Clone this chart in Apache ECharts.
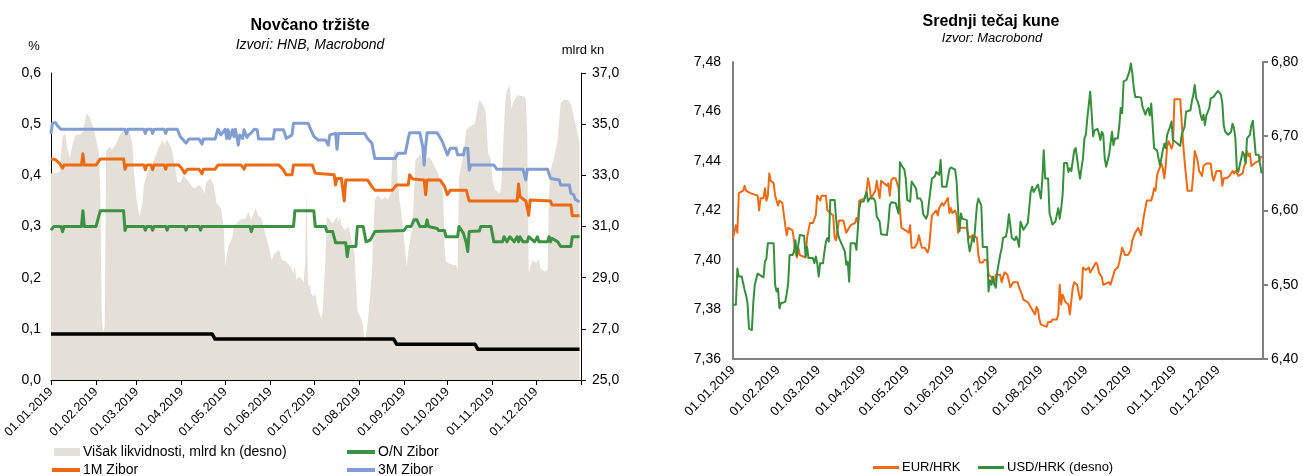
<!DOCTYPE html>
<html>
<head>
<meta charset="utf-8">
<title>Novčano tržište / Srednji tečaj kune</title>
<script src="https://cdn.jsdelivr.net/npm/echarts@6/dist/echarts.min.js"></script>
<style>
  html, body { margin: 0; padding: 0; background: #ffffff; }
  #chart { width: 1303px; height: 476px; }
</style>
</head>
<body>
<div id="chart"></div>
<script>
// x positions are days since 1 January 2019
const monthStarts = [0, 31, 59, 90, 120, 151, 181, 212, 243, 273, 304, 334];
const monthLabels = ['01.01.2019', '01.02.2019', '01.03.2019', '01.04.2019', '01.05.2019', '01.06.2019',
  '01.07.2019', '01.08.2019', '01.09.2019', '01.10.2019', '01.11.2019', '01.12.2019'];
const yearEnd = 365;

// Money market: excess liquidity (bn kn, right axis) and Zibor rates (%)
const excessLiquidity = [[0,33.08],[3,33.08],[6,33.14],[8,34.51],[10,34.64],[11,34.12],[13,33.67],[15,34.25],[17,34.58],[21,34.62],[22,34.71],[24,35.29],[25,35.42],[27,35.23],[29,34.9],[31,34.45],[33,33.86],[34,32.3],[35,27.35],[36,26.89],[37,27.08],[38,33.99],[41,34.12],[42,33.99],[45,34.25],[48,34.64],[50,34.77],[54,34.71],[56,34.25],[57,33.21],[59,32.04],[61,31.39],[63,31.91],[64,32.62],[67,33.21],[71,33.6],[74,34.06],[77,34.38],[78,34.19],[80,34.38],[83,34.06],[85,33.47],[87,32.75],[89,32.69],[91,33.01],[94,32.82],[97,32.56],[99,32.49],[102,32.62],[104,32.49],[106,32.3],[107,32.75],[110,32.88],[112,32.62],[114,31.91],[117,31.71],[119,30.99],[120,29.43],[122,30.21],[125,30.6],[126,31.06],[128,31.12],[130,31.25],[134,31.32],[136,31.58],[138,31.25],[141,31.71],[143,31.39],[145,31.32],[147,30.86],[150,30.21],[152,29.69],[154,29.95],[157,30.08],[159,29.69],[160,29.76],[162,29.63],[165,29.43],[167,29.17],[168,29.43],[169,28.91],[171,29.04],[173,28.91],[174,28.78],[175,29.56],[176,32.43],[177,28.65],[178,28.78],[179,28.39],[181,28.26],[182,28.39],[183,28.0],[185,27.61],[186,27.41],[187,27.61],[189,29.69],[190,31.39],[192,31.25],[194,31.12],[197,31.39],[198,31.19],[199,31.39],[200,31.06],[202,30.86],[205,30.99],[207,30.47],[209,29.95],[211,27.74],[214,27.35],[215,27.08],[216,26.43],[217,26.82],[218,27.22],[219,27.74],[221,29.17],[223,32.04],[225,32.23],[228,32.04],[230,32.17],[232,32.04],[234,32.3],[235,33.6],[237,34.06],[238,33.73],[239,32.56],[240,32.04],[241,31.65],[243,30.6],[245,29.4],[246,30.0],[248,30.73],[249,30.99],[250,32.3],[251,33.6],[253,33.73],[254,33.86],[256,33.6],[258,33.6],[260,33.73],[262,33.6],[264,33.34],[266,33.14],[268,32.82],[270,32.3],[271,30.21],[272,29.63],[274,29.56],[277,29.5],[279,29.5],[280,29.3],[281,32.88],[284,33.86],[286,34.77],[288,34.9],[292,35.03],[294,35.69],[295,35.95],[297,35.82],[299,35.56],[300,34.9],[301,33.86],[303,33.6],[304,32.82],[306,32.43],[309,32.3],[310,32.56],[311,33.6],[312,34.9],[313,35.95],[314,36.34],[316,36.53],[317,35.56],[318,35.82],[320,36.01],[321,36.14],[324,36.1],[326,36.08],[327,35.95],[328,34.51],[329,29.17],[330,29.43],[332,29.69],[334,29.56],[336,29.76],[337,29.37],[340,29.24],[342,29.3],[343,32.3],[344,33.21],[346,33.6],[349,34.38],[350,35.16],[351,35.82],[353,35.95],[356,35.95],[357,35.88],[358,35.8],[360,35.3],[362,34.8],[364,34.3]];

const ziborON = [[0,0.293],[2,0.3],[7,0.3],[8,0.29],[9,0.3],[21,0.3],[22,0.331],[23,0.3],[31,0.3],[34,0.331],[50,0.331],[51,0.292],[52,0.3],[64,0.3],[65,0.293],[66,0.3],[69,0.3],[70,0.293],[71,0.3],[79,0.3],[80,0.293],[81,0.3],[92,0.3],[93,0.293],[94,0.3],[102,0.3],[103,0.293],[104,0.3],[137,0.3],[138,0.29],[139,0.3],[167,0.3],[168,0.331],[181,0.331],[182,0.3],[189,0.3],[190,0.29],[194,0.29],[196,0.268],[203,0.268],[204,0.241],[205,0.261],[210,0.261],[211,0.3],[215,0.3],[217,0.27],[220,0.274],[223,0.29],[243,0.292],[245,0.3],[248,0.3],[250,0.313],[252,0.313],[254,0.3],[258,0.3],[259,0.313],[260,0.3],[266,0.296],[267,0.292],[271,0.292],[272,0.28],[280,0.28],[281,0.3],[284,0.287],[286,0.268],[287,0.251],[288,0.29],[295,0.291],[296,0.3],[303,0.3],[305,0.27],[311,0.27],[312,0.28],[314,0.27],[316,0.28],[319,0.27],[321,0.28],[322,0.27],[323,0.28],[325,0.27],[326,0.268],[328,0.27],[329,0.28],[333,0.27],[335,0.28],[336,0.27],[342,0.27],[343,0.28],[344,0.27],[345,0.277],[349,0.27],[351,0.261],[358,0.261],[359,0.28],[364,0.28]];

const zibor1M = [[0,0.432],[3,0.431],[6,0.423],[8,0.414],[9,0.42],[21,0.42],[22,0.442],[23,0.42],[31,0.42],[34,0.432],[50,0.432],[51,0.412],[52,0.42],[64,0.42],[65,0.411],[66,0.42],[69,0.42],[70,0.411],[71,0.42],[78,0.42],[79,0.412],[80,0.42],[88,0.42],[90,0.414],[92,0.404],[94,0.412],[102,0.412],[104,0.403],[105,0.412],[113,0.412],[115,0.42],[131,0.42],[133,0.412],[134,0.42],[157,0.42],[160,0.411],[162,0.401],[166,0.401],[167,0.42],[180,0.42],[182,0.404],[195,0.401],[196,0.381],[197,0.394],[200,0.394],[202,0.35],[203,0.391],[218,0.391],[221,0.378],[223,0.371],[235,0.371],[238,0.381],[246,0.381],[247,0.401],[249,0.393],[257,0.391],[258,0.362],[259,0.391],[268,0.391],[271,0.378],[273,0.362],[275,0.371],[286,0.371],[288,0.35],[321,0.35],[322,0.383],[323,0.358],[327,0.35],[329,0.322],[330,0.352],[344,0.35],[345,0.342],[358,0.342],[359,0.321],[364,0.321]];

const zibor3M = [[0,0.481],[1,0.502],[3,0.503],[5,0.495],[7,0.49],[51,0.49],[52,0.481],[53,0.49],[64,0.49],[65,0.482],[66,0.49],[69,0.49],[70,0.482],[71,0.49],[78,0.49],[79,0.482],[80,0.49],[87,0.49],[89,0.476],[93,0.463],[95,0.471],[102,0.471],[104,0.461],[105,0.471],[113,0.471],[115,0.49],[117,0.479],[118,0.476],[120,0.49],[121,0.472],[122,0.489],[123,0.472],[125,0.489],[126,0.476],[127,0.49],[129,0.459],[130,0.479],[132,0.472],[133,0.489],[135,0.474],[136,0.479],[138,0.483],[140,0.49],[142,0.489],[143,0.471],[153,0.471],[154,0.489],[160,0.489],[161,0.482],[162,0.472],[166,0.479],[167,0.502],[177,0.502],[181,0.476],[184,0.469],[189,0.469],[191,0.459],[192,0.479],[196,0.482],[197,0.451],[198,0.482],[216,0.482],[218,0.472],[221,0.463],[223,0.433],[237,0.433],[239,0.443],[244,0.443],[246,0.472],[247,0.483],[254,0.483],[256,0.456],[257,0.42],[258,0.456],[259,0.483],[266,0.483],[269,0.469],[271,0.455],[273,0.44],[275,0.453],[279,0.453],[280,0.44],[284,0.44],[285,0.453],[287,0.453],[288,0.41],[289,0.42],[305,0.42],[307,0.412],[325,0.412],[326,0.401],[327,0.391],[328,0.412],[342,0.412],[344,0.394],[350,0.391],[351,0.381],[357,0.381],[358,0.365],[360,0.362],[361,0.353],[364,0.348]];

// Unlabelled black reference rate
const referenceRate = [[0,0.09],[111,0.09],[113,0.08],[236,0.08],[238,0.07],[292,0.07],[294,0.06],[364,0.06]];

// Exchange rates of the kuna
const eurHrk = [[0,7.409],[1,7.409],[2,7.414],[3,7.411],[4,7.427],[7,7.428],[8,7.43],[9,7.428],[10,7.428],[12,7.427],[17,7.426],[18,7.42],[19,7.425],[21,7.425],[22,7.429],[23,7.424],[24,7.426],[25,7.435],[26,7.432],[28,7.431],[29,7.426],[31,7.422],[32,7.424],[34,7.423],[36,7.414],[37,7.41],[38,7.413],[41,7.412],[42,7.408],[43,7.403],[44,7.401],[45,7.405],[46,7.402],[50,7.401],[51,7.409],[53,7.415],[55,7.415],[57,7.418],[58,7.426],[60,7.424],[61,7.426],[64,7.426],[65,7.42],[69,7.418],[70,7.409],[71,7.408],[73,7.416],[76,7.416],[78,7.411],[79,7.411],[81,7.414],[84,7.415],[85,7.417],[86,7.415],[87,7.424],[91,7.425],[92,7.428],[93,7.433],[94,7.43],[95,7.425],[98,7.428],[99,7.432],[100,7.432],[101,7.425],[102,7.432],[106,7.43],[107,7.431],[108,7.426],[109,7.432],[110,7.433],[112,7.433],[114,7.429],[115,7.42],[116,7.413],[119,7.412],[121,7.411],[122,7.414],[123,7.405],[125,7.405],[127,7.407],[128,7.41],[130,7.405],[132,7.405],[134,7.403],[135,7.405],[137,7.418],[140,7.42],[141,7.418],[142,7.421],[143,7.422],[144,7.423],[145,7.422],[146,7.423],[148,7.425],[149,7.419],[150,7.421],[151,7.419],[153,7.42],[154,7.418],[155,7.411],[156,7.413],[159,7.413],[161,7.413],[162,7.41],[163,7.409],[165,7.41],[168,7.409],[169,7.402],[170,7.399],[172,7.399],[173,7.4],[175,7.4],[176,7.394],[178,7.393],[180,7.391],[181,7.394],[184,7.394],[185,7.391],[187,7.395],[189,7.394],[191,7.389],[192,7.389],[193,7.391],[196,7.391],[197,7.389],[199,7.386],[200,7.384],[203,7.383],[204,7.382],[207,7.379],[208,7.378],[209,7.381],[210,7.38],[211,7.376],[212,7.374],[216,7.373],[217,7.375],[219,7.375],[220,7.376],[221,7.376],[223,7.376],[224,7.378],[225,7.39],[226,7.382],[227,7.386],[228,7.386],[229,7.383],[231,7.382],[232,7.378],[233,7.378],[234,7.389],[235,7.391],[237,7.39],[239,7.384],[240,7.385],[241,7.397],[243,7.396],[245,7.397],[246,7.395],[248,7.397],[250,7.399],[251,7.398],[252,7.395],[254,7.393],[255,7.39],[259,7.391],[260,7.39],[262,7.394],[263,7.396],[265,7.397],[266,7.399],[267,7.399],[268,7.405],[270,7.402],[272,7.402],[274,7.404],[275,7.408],[277,7.411],[279,7.413],[281,7.41],[282,7.41],[283,7.418],[285,7.424],[288,7.424],[289,7.426],[290,7.429],[291,7.428],[292,7.434],[293,7.436],[294,7.436],[295,7.439],[296,7.437],[297,7.433],[298,7.438],[299,7.446],[300,7.448],[301,7.448],[302,7.445],[303,7.447],[304,7.465],[308,7.465],[309,7.456],[310,7.447],[311,7.44],[312,7.434],[313,7.428],[316,7.428],[317,7.435],[318,7.444],[320,7.44],[321,7.436],[322,7.436],[323,7.434],[324,7.438],[326,7.439],[329,7.439],[330,7.434],[331,7.432],[332,7.432],[333,7.436],[336,7.436],[337,7.43],[338,7.433],[340,7.433],[342,7.434],[344,7.436],[345,7.435],[346,7.436],[348,7.434],[351,7.435],[352,7.438],[353,7.439],[354,7.444],[355,7.442],[356,7.443],[357,7.438],[359,7.439],[362,7.44],[364,7.442]];

const usdHrk = [[0,6.473],[2,6.473],[3,6.522],[4,6.511],[6,6.511],[8,6.493],[9,6.486],[10,6.475],[11,6.441],[13,6.439],[14,6.477],[15,6.5],[17,6.515],[21,6.51],[22,6.531],[23,6.535],[24,6.556],[28,6.556],[29,6.5],[30,6.491],[31,6.495],[32,6.468],[33,6.475],[36,6.477],[37,6.488],[38,6.502],[39,6.54],[41,6.54],[42,6.545],[43,6.56],[44,6.54],[45,6.554],[46,6.567],[49,6.566],[50,6.538],[51,6.551],[52,6.536],[55,6.536],[56,6.529],[57,6.538],[58,6.529],[59,6.511],[60,6.529],[62,6.529],[63,6.545],[64,6.558],[65,6.563],[66,6.558],[67,6.614],[70,6.614],[71,6.589],[72,6.571],[73,6.563],[75,6.554],[77,6.545],[78,6.527],[79,6.531],[80,6.504],[81,6.556],[84,6.556],[85,6.547],[86,6.576],[87,6.603],[88,6.612],[90,6.612],[91,6.619],[92,6.625],[93,6.612],[94,6.616],[97,6.616],[98,6.612],[99,6.592],[101,6.585],[102,6.568],[106,6.567],[107,6.583],[108,6.607],[109,6.611],[112,6.61],[114,6.596],[115,6.665],[116,6.661],[118,6.655],[119,6.643],[120,6.614],[122,6.612],[123,6.639],[124,6.641],[126,6.63],[127,6.616],[129,6.616],[130,6.612],[131,6.595],[132,6.594],[133,6.589],[134,6.594],[135,6.612],[137,6.643],[139,6.646],[140,6.652],[141,6.652],[142,6.648],[143,6.668],[144,6.632],[147,6.632],[148,6.63],[149,6.655],[150,6.658],[153,6.655],[154,6.639],[155,6.601],[156,6.572],[157,6.596],[158,6.589],[161,6.587],[162,6.558],[163,6.545],[164,6.554],[165,6.565],[166,6.558],[168,6.607],[169,6.616],[171,6.607],[172,6.551],[173,6.55],[175,6.551],[176,6.491],[177,6.506],[178,6.5],[179,6.511],[180,6.5],[181,6.496],[182,6.518],[184,6.54],[185,6.549],[186,6.563],[188,6.565],[189,6.576],[190,6.595],[191,6.58],[192,6.563],[194,6.56],[195,6.565],[196,6.56],[197,6.551],[198,6.585],[199,6.585],[200,6.574],[201,6.576],[203,6.583],[204,6.603],[205,6.625],[206,6.632],[207,6.625],[208,6.625],[210,6.635],[211,6.634],[212,6.616],[213,6.641],[214,6.681],[215,6.643],[217,6.643],[218,6.596],[219,6.589],[220,6.581],[222,6.585],[223,6.585],[224,6.603],[225,6.589],[226,6.603],[227,6.621],[228,6.664],[230,6.664],[231,6.652],[232,6.657],[233,6.653],[235,6.681],[236,6.684],[238,6.655],[239,6.643],[240,6.657],[241,6.67],[242,6.697],[243,6.702],[244,6.724],[246,6.76],[247,6.731],[248,6.7],[249,6.708],[251,6.71],[252,6.704],[253,6.695],[254,6.706],[255,6.702],[256,6.67],[257,6.659],[258,6.659],[259,6.675],[261,6.706],[262,6.688],[263,6.697],[265,6.697],[266,6.713],[267,6.738],[268,6.731],[269,6.774],[271,6.776],[272,6.778],[273,6.787],[274,6.798],[275,6.785],[276,6.765],[277,6.753],[279,6.753],[281,6.752],[282,6.74],[283,6.74],[284,6.729],[285,6.735],[286,6.738],[287,6.728],[288,6.744],[289,6.715],[290,6.684],[292,6.681],[293,6.679],[294,6.661],[295,6.67],[296,6.681],[297,6.69],[298,6.684],[299,6.702],[300,6.704],[301,6.713],[302,6.72],[303,6.695],[305,6.692],[306,6.693],[308,6.687],[309,6.702],[311,6.713],[312,6.733],[313,6.734],[315,6.735],[316,6.747],[317,6.756],[318,6.769],[319,6.751],[320,6.747],[321,6.74],[322,6.729],[323,6.722],[324,6.729],[325,6.715],[326,6.728],[327,6.733],[328,6.738],[329,6.751],[330,6.749],[331,6.753],[332,6.756],[334,6.761],[335,6.76],[336,6.756],[337,6.744],[338,6.714],[339,6.706],[341,6.702],[343,6.706],[344,6.717],[345,6.711],[346,6.697],[347,6.655],[348,6.652],[349,6.65],[350,6.67],[351,6.679],[352,6.675],[353,6.664],[354,6.697],[355,6.699],[356,6.702],[357,6.715],[358,6.721],[359,6.72],[360,6.675],[362,6.675],[364,6.65]];

// Tick values of the four value axes
const rateTicks = [0, 0.1, 0.2, 0.3, 0.4, 0.5, 0.6];
const liquidityTicks = [25, 27, 29, 31, 33, 35, 37];
const eurTicks = [7.36, 7.38, 7.40, 7.42, 7.44, 7.46, 7.48];
const usdTicks = [6.40, 6.50, 6.60, 6.70, 6.80];

const FONT = '"Liberation Sans", Arial, sans-serif';
const comma = (digits) => (v) => Number(v).toFixed(digits).replace('.', ',');
const monthLabel = (v) => {
  const i = monthStarts.indexOf(Math.round(v));
  return i >= 0 ? monthLabels[i] : '';
};

const COLORS = {
  liquidity: '#E4DFD7',
  on: '#3C9142',
  m1: '#EE6A12',
  m3: '#829DD1',
  ref: '#000000',
  eur: '#EE6A14',
  usd: '#378E3D',
  grayAxis: '#808080'
};

const chart = echarts.init(document.getElementById('chart'), null, { renderer: 'canvas' });

const lineSeries = (name, data, color, width, xi, yi, z) => ({
  name, type: 'line', data, xAxisIndex: xi, yAxisIndex: yi,
  showSymbol: false, symbol: 'none', color, z,
  lineStyle: { color, width, join: 'round' },
  silent: true, animation: false
});

const legendItem = (name, left, top, iw, ih, fontSize) => ({
  data: [{ name, icon: 'rect' }],
  left, top, padding: 0, itemWidth: iw, itemHeight: ih, itemGap: 0,
  selectedMode: false,
  textStyle: { fontFamily: FONT, fontSize, color: '#000', padding: [0, 0, 0, -2] }
});

chart.setOption({
  animation: false,
  backgroundColor: '#ffffff',
  grid: [
    { left: 50, top: 73, width: 531, height: 307, containLabel: false },
    { left: 733, top: 62, width: 530, height: 297, containLabel: false }
  ],
  xAxis: [
    {
      type: 'value', gridIndex: 0, min: 0, max: yearEnd,
      axisLine: { show: true, lineStyle: { color: '#000', width: 1 } },
      axisTick: { show: true, customValues: monthStarts.concat([yearEnd]), length: 5, lineStyle: { color: '#000' } },
      axisLabel: { customValues: monthStarts, rotate: 45, margin: 10, fontSize: 12.5, fontFamily: FONT, color: '#000', formatter: monthLabel },
      splitLine: { show: false }
    },
    {
      type: 'value', gridIndex: 1, min: 0, max: yearEnd,
      axisLine: { show: true, lineStyle: { color: COLORS.grayAxis, width: 2 } },
      axisTick: { show: false },
      axisLabel: { customValues: monthStarts, rotate: 45, margin: 9, fontSize: 13, fontFamily: FONT, color: '#000', formatter: monthLabel },
      splitLine: { show: false }
    }
  ],
  yAxis: [
    {
      type: 'value', gridIndex: 0, min: 0, max: 0.6, position: 'left',
      axisLine: { show: true, lineStyle: { color: '#000', width: 1 } },
      axisTick: { show: false },
      axisLabel: { customValues: rateTicks, margin: 10, fontSize: 14, fontFamily: FONT, color: '#000', formatter: comma(1) },
      splitLine: { show: false }
    },
    {
      type: 'value', gridIndex: 0, min: 25, max: 37, position: 'right',
      axisLine: { show: true, lineStyle: { color: '#000', width: 1 } },
      axisTick: { show: true, customValues: liquidityTicks, length: 5, lineStyle: { color: '#000' } },
      axisLabel: { customValues: liquidityTicks, margin: 11, fontSize: 14, fontFamily: FONT, color: '#000', formatter: comma(1) },
      splitLine: { show: false }
    },
    {
      type: 'value', gridIndex: 1, min: 7.36, max: 7.48, position: 'left',
      axisLine: { show: true, lineStyle: { color: COLORS.grayAxis, width: 2 } },
      axisTick: { show: false },
      axisLabel: { customValues: eurTicks, margin: 12, fontSize: 14, fontFamily: FONT, color: '#000', formatter: comma(2) },
      splitLine: { show: false }
    },
    {
      type: 'value', gridIndex: 1, min: 6.4, max: 6.8, position: 'right',
      axisLine: { show: true, lineStyle: { color: COLORS.grayAxis, width: 2 } },
      axisTick: { show: true, customValues: usdTicks, length: 5, lineStyle: { color: COLORS.grayAxis, width: 2 } },
      axisLabel: { customValues: usdTicks, margin: 8, fontSize: 14, fontFamily: FONT, color: '#000', formatter: comma(2) },
      splitLine: { show: false }
    }
  ],
  legend: [
    legendItem('Višak likvidnosti, mlrd kn (desno)', 54, 445, 26, 8, 14),
    legendItem('O/N Zibor', 347, 445, 28, 4, 14),
    legendItem('1M Zibor', 52, 463, 28, 4, 14),
    legendItem('3M Zibor', 347, 463, 28, 4, 14),
    legendItem('EUR/HRK', 873, 461, 26, 3, 13),
    legendItem('USD/HRK (desno)', 978, 461, 26, 3, 13)
  ],
  graphic: [
    { type: 'text', x: 310, y: 26, silent: true,
      style: { text: 'Novčano tržište', font: 'bold 16px ' + FONT, fill: '#000', align: 'center', verticalAlign: 'middle' } },
    { type: 'text', x: 310, y: 45, silent: true,
      style: { text: 'Izvori: HNB, Macrobond', font: 'italic 14px ' + FONT, fill: '#000', align: 'center', verticalAlign: 'middle' } },
    { type: 'text', x: 34, y: 46, silent: true,
      style: { text: '%', font: '13px ' + FONT, fill: '#000', align: 'center', verticalAlign: 'middle' } },
    { type: 'text', x: 583, y: 50, silent: true,
      style: { text: 'mlrd kn', font: '13px ' + FONT, fill: '#000', align: 'center', verticalAlign: 'middle' } },
    { type: 'text', x: 991, y: 22, silent: true,
      style: { text: 'Srednji tečaj kune', font: 'bold 16px ' + FONT, fill: '#000', align: 'center', verticalAlign: 'middle' } },
    { type: 'text', x: 992, y: 38, silent: true,
      style: { text: 'Izvor: Macrobond', font: 'italic 13px ' + FONT, fill: '#000', align: 'center', verticalAlign: 'middle' } }
  ],
  series: [
    {
      name: 'Višak likvidnosti, mlrd kn (desno)', type: 'line', data: excessLiquidity,
      xAxisIndex: 0, yAxisIndex: 1, showSymbol: false, symbol: 'none', color: COLORS.liquidity, z: 1,
      lineStyle: { width: 0, color: COLORS.liquidity },
      itemStyle: { color: COLORS.liquidity },
      areaStyle: { color: COLORS.liquidity, opacity: 1, origin: 'start' },
      silent: true, animation: false
    },
    lineSeries('referenceRate', referenceRate, COLORS.ref, 3.5, 0, 0, 3),
    lineSeries('3M Zibor', zibor3M, COLORS.m3, 3, 0, 0, 4),
    lineSeries('1M Zibor', zibor1M, COLORS.m1, 3, 0, 0, 5),
    lineSeries('O/N Zibor', ziborON, COLORS.on, 3, 0, 0, 6),
    lineSeries('EUR/HRK', eurHrk, COLORS.eur, 2, 1, 2, 4),
    lineSeries('USD/HRK (desno)', usdHrk, COLORS.usd, 2, 1, 3, 5)
  ]
});
</script>
</body>
</html>
